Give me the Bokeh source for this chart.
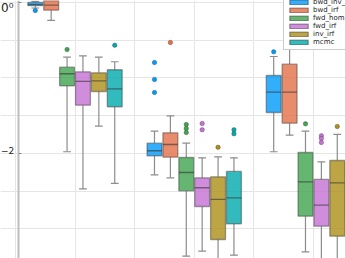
from bokeh.plotting import figure
from bokeh.models import (ColumnDataSource, Range1d, FixedTicker, Grid, Legend,
                          LegendItem, Label, LinearAxis)
from bokeh.embed import file_html
from bokeh.resources import INLINE

# ---- data (log10 scale values) ----
categories = [1, 2, 3]
series = ["bwd_inv_irf", "bwd_irf", "fwd_hom", "fwd_irf", "inv_irf", "mcmc"]
colors = ["#009AFA", "#E36F47", "#3EA44E", "#C371D2", "#AC8E18", "#00A9AD"]

upper_whisker = [
    [0.015, -1.705, -0.715],
    [0.066, -1.501, -0.371],
    [-0.724, -1.864, -1.705],
    [-0.706, -2.057, -2.110],
    [-0.724, -2.044, -1.748],
    [-0.785, -2.057, -1.800],
]
q3 = [
    [0.000, -1.864, -0.967],
    [0.040, -1.726, -0.817],
    [-0.857, -2.053, -1.987],
    [-0.918, -2.322, -2.344],
    [-0.931, -2.309, -2.093],
    [-0.891, -2.238, -2.100],
]
median = [
    [-0.027, -1.964, -1.188],
    [-0.036, -1.881, -1.188],
    [-0.944, -2.252, -2.375],
    [-1.046, -2.454, -2.685],
    [-1.037, -2.609, -2.388],
    [-1.143, -2.587, -2.500],
]
q1 = [
    [-0.040, -2.030, -1.457],
    [-0.102, -2.049, -1.599],
    [-1.103, -2.494, -2.830],
    [-1.360, -2.702, -2.963],
    [-1.179, -3.139, -3.095],
    [-1.381, -2.931, -2.900],
]
lower_whisker = [
    [-0.073, -2.282, -1.977],
    [-0.238, -2.322, -1.758],
    [-1.977, -3.360, -3.302],
    [-2.468, -3.294, -3.680],
    [-1.638, -3.620, -3.700],
    [-2.397, -3.347, -3.400],
]
outliers = [
    [[-0.106], [-0.795, -1.020, -1.192], [-0.653]],
    [[], [-0.530], []],
    [[-0.623], [-1.616, -1.669, -1.722], [-1.607]],
    [[], [-1.603, -1.686], [-1.766, -1.801, -1.854]],
    [[], [-1.917], [-1.642]],
    [[-0.566], [-1.686, -1.739], []],
]
y_ticks = [0, -2]
y_tick_labels = ["0\u2070", "\u22122"]

# ---- figure ----
x_start, x_end = 0.375, 3.269
axis_x = 0.526
p = figure(width=345, height=258, output_backend="svg", toolbar_location=None,
           x_range=Range1d(x_start, x_end), y_range=Range1d(-3.391, 0.0265),
           x_axis_location=None, y_axis_location=None,
           min_border_left=0, min_border_right=0,
           min_border_top=0, min_border_bottom=0)
p.outline_line_color = None
p.background_fill_color = "white"
p.border_fill_color = "white"

p.add_layout(Grid(dimension=1, ticker=FixedTicker(ticks=y_ticks),
                  bounds=(axis_x, x_end), grid_line_color="#e6e6e6"))
p.add_layout(Grid(dimension=0, ticker=FixedTicker(ticks=categories),
                  grid_line_color="#e6e6e6"))

ax = LinearAxis(fixed_location=axis_x,
                ticker=FixedTicker(ticks=[], minor_ticks=y_ticks))
ax.major_tick_in = 0
ax.major_tick_out = 0
ax.minor_tick_in = 3
ax.minor_tick_out = 0
ax.minor_tick_line_color = "#888888"
ax.axis_line_color = "#bdbdbd"
ax.axis_line_width = 2
p.add_layout(ax, "left")

step = 0.1333
box_w = 0.125
cap_w = 0.065
items = []
for i, name in enumerate(series):
    xs = [c + (i - 2.5) * step for c in categories]
    src = ColumnDataSource(dict(
        x=xs, q1=q1[i], q3=q3[i], med=median[i],
        lw=lower_whisker[i], uw=upper_whisker[i],
        xl=[x - box_w / 2 for x in xs], xr=[x + box_w / 2 for x in xs],
        cl=[x - cap_w / 2 for x in xs], cr=[x + cap_w / 2 for x in xs],
    ))
    p.segment(x0="x", y0="q3", x1="x", y1="uw", source=src,
              line_color="#8c8c8c", line_width=1.2)
    p.segment(x0="x", y0="q1", x1="x", y1="lw", source=src,
              line_color="#8c8c8c", line_width=1.2)
    p.segment(x0="cl", y0="uw", x1="cr", y1="uw", source=src,
              line_color="#8c8c8c", line_width=1.2)
    p.segment(x0="cl", y0="lw", x1="cr", y1="lw", source=src,
              line_color="#8c8c8c", line_width=1.2)
    r = p.vbar(x="x", width=box_w, top="q3", bottom="q1", source=src,
               fill_color=colors[i], fill_alpha=0.8,
               line_color="#333333", line_alpha=0.45, line_width=1.3)
    p.segment(x0="xl", y0="med", x1="xr", y1="med", source=src,
              line_color="#333333", line_alpha=0.6, line_width=1.3)
    ox, oy = [], []
    for g, c in enumerate(categories):
        for v in outliers[i][g]:
            ox.append(xs[g])
            oy.append(v)
    p.scatter(ox, oy, size=4.5, fill_color=colors[i],
              line_color="#333333", line_alpha=0.4, line_width=0.8)
    items.append(LegendItem(label=name, renderers=[r]))

legend = Legend(items=items, location=(283, 208))
legend.label_text_font_size = "7px"
legend.label_text_font = "DejaVu Sans"
legend.label_text_color = "#222222"
legend.glyph_width = 23
legend.glyph_height = 6
legend.label_height = 6
legend.spacing = -1
legend.padding = 3
legend.label_standoff = 3
legend.margin = 0
legend.border_line_color = "#999999"
legend.border_line_width = 1
legend.background_fill_alpha = 1
p.add_layout(legend, "center")

p.add_layout(Label(x=0.5, y=y_ticks[0], x_units="screen", y_units="data",
                   y_offset=-5, text=y_tick_labels[0], text_align="left",
                   text_baseline="middle", text_font_size="12px",
                   text_font="DejaVu Sans", text_color="#222222"))
p.add_layout(Label(x=0.5, y=y_ticks[1], x_units="screen", y_units="data",
                   y_offset=3, text=y_tick_labels[1], text_align="left",
                   text_baseline="middle", text_font_size="9px",
                   text_font="DejaVu Sans", text_color="#222222"))

open("out.html", "w").write(file_html(p, INLINE))
